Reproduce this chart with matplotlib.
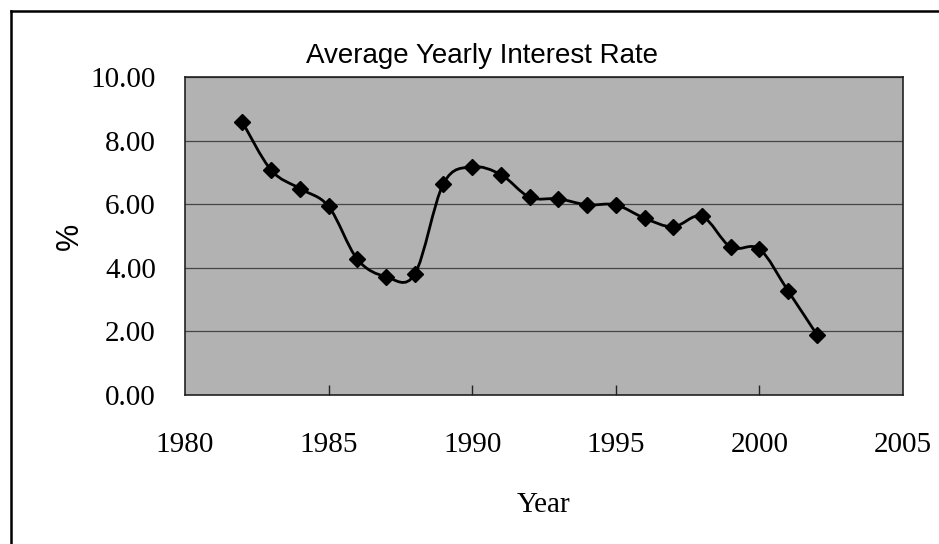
import matplotlib
matplotlib.use('Agg')
import matplotlib.pyplot as plt
from matplotlib.path import Path
from matplotlib.patches import PathPatch
from matplotlib.lines import Line2D
import numpy as np

# average yearly interest rate (%)
years = [1982, 1983, 1984, 1985, 1986, 1987, 1988, 1989, 1990, 1991, 1992,
         1993, 1994, 1995, 1996, 1997, 1998, 1999, 2000, 2001, 2002]
rates = [8.58, 7.07, 6.49, 5.93, 4.27, 3.72, 3.80, 6.65, 7.17, 6.93, 6.22,
         6.17, 5.98, 5.98, 5.56, 5.29, 5.62, 4.65, 4.59, 3.27, 1.90]

x_ticks = [1980, 1985, 1990, 1995, 2000, 2005]
y_ticks = [0, 2, 4, 6, 8, 10]

SERIF = 'Liberation Serif'
SANS = 'Liberation Sans'


def smooth_path(xs, ys):
    """Bezier path through the points, spreadsheet-style smoothed line."""
    pts = np.column_stack([xs, ys]).astype(float)
    n = len(pts)
    verts = [pts[0]]
    codes = [Path.MOVETO]
    for i in range(n - 1):
        p0 = pts[i - 1] if i > 0 else pts[i]
        p1 = pts[i]
        p2 = pts[i + 1]
        p3 = pts[i + 2] if i + 2 < n else pts[i + 1]
        c1 = p1 + (p2 - p0) / 6.0
        c2 = p2 - (p3 - p1) / 6.0
        verts += [c1, c2, p2]
        codes += [Path.CURVE4] * 3
    return Path(verts, codes)


fig = plt.figure(figsize=(9.39, 5.44), dpi=100)
ax = fig.add_axes([185 / 939, 1 - 395 / 544, (903 - 185) / 939, (395 - 77) / 544])
ax.set_facecolor('#b2b2b2')

ax.set_xlim(1980, 2005)
ax.set_ylim(0, 10)
ax.set_xticks(x_ticks)
ax.set_yticks(y_ticks)
ax.set_yticklabels([f'{v:.2f}' for v in y_ticks], family=SERIF, fontsize=21)
ax.set_xticklabels([str(v) for v in x_ticks], family=SERIF, fontsize=21)
ax.tick_params(axis='x', direction='in', length=7, width=1, color='#222222', pad=27)
ax.tick_params(axis='y', length=0, pad=21)
# no tick marks on the two ends, they sit on the side spines
xt = ax.xaxis.get_major_ticks()
xt[0].tick1line.set_visible(False)
xt[-1].tick1line.set_visible(False)

ax.grid(True, axis='y', color='#454545', lw=0.9)
ax.set_axisbelow(True)
for s in ax.spines.values():
    s.set_color('#222222')
    s.set_linewidth(1.2)

patch = PathPatch(smooth_path(years, rates), transform=ax.transData,
                  facecolor='none', edgecolor='black', lw=2, zorder=3)
ax.add_patch(patch)
ax.plot(years, rates, ls='none', marker='D', ms=8, color='black', zorder=4)

ax.set_xlabel('Year', family=SERIF, fontsize=21, labelpad=24)
ax.set_ylabel('%', family=SANS, fontsize=22, labelpad=4)

fig.text(482 / 939, 1 - 56 / 544, 'Average Yearly Interest Rate', family=SANS,
         fontsize=20, ha='center', va='center')

# outer chart frame (left and top edges)
fig.add_artist(Line2D([11 / 939, 11 / 939], [0, 1 - 11 / 544], color='black', lw=1.8))
fig.add_artist(Line2D([11 / 939, 1], [1 - 11 / 544, 1 - 11 / 544], color='black', lw=1.8))

plt.savefig('out.png', dpi=100)
